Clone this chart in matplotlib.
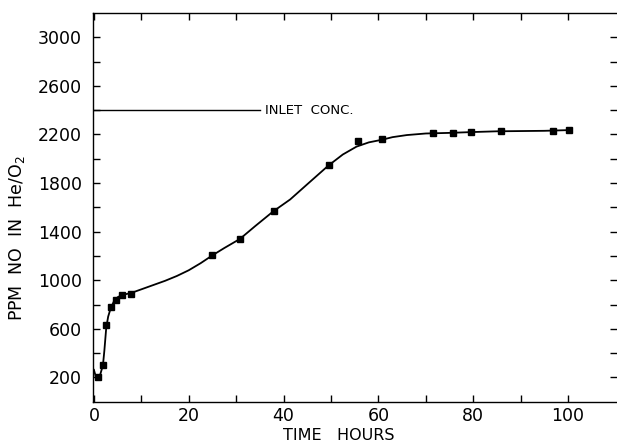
import matplotlib
matplotlib.use('Agg')
import matplotlib.pyplot as plt
import numpy as np

# measured points (squares)
time_pts = [0.9, 2.0, 2.6, 3.7, 4.6, 6.0, 7.8, 25.0, 30.8, 38.0, 49.5, 55.8,
            60.7, 71.6, 75.8, 79.5, 85.9, 96.9, 100.3]
ppm_pts = [205, 305, 628, 779, 834, 875, 889, 1210, 1340, 1570, 1945, 2148,
           2159, 2214, 2208, 2220, 2230, 2228, 2236]

# hand-drawn smooth curve
curve_t = [0.0, 0.4, 0.8, 1.3, 1.9, 2.2, 2.6, 3.0, 3.5, 4.2, 5.0, 6.0, 7.7,
           10, 12.5, 15, 17.5, 20, 22.5, 25, 27.5, 30.8, 34, 37.8, 41.4, 45,
           49.4, 52.5, 55.4, 58, 60.7, 63, 66, 70, 75, 80, 85, 90, 95, 100.3]
curve_ppm = [262, 205, 197, 220, 300, 420, 610, 700, 765, 825, 860, 880, 893,
             925, 960, 995, 1035, 1082, 1140, 1205, 1265, 1340, 1445, 1566,
             1665, 1790, 1942, 2035, 2100, 2135, 2156, 2178, 2195, 2208, 2213,
             2220, 2226, 2228, 2230, 2236]

inlet_conc = 2400
inlet_end = 35

fig = plt.figure(figsize=(6.17, 4.42), dpi=100)
ax = fig.add_axes([0.1507, 0.0912, 0.849, 0.8794])

ax.plot(curve_t, curve_ppm, color='black', lw=1.3)
ax.plot(time_pts, ppm_pts, 's', color='black', ms=4.5)

ax.plot([0, inlet_end], [inlet_conc, inlet_conc], color='black', lw=1.0)
ax.text(inlet_end + 1.0, inlet_conc, 'INLET  CONC.', fontsize=9.5,
        va='center', ha='left')

ax.set_xlim(-0.2, 110.3)
ax.set_ylim(0, 3200)

ax.set_xticks(np.arange(0, 101, 20))
ax.set_xticks(np.arange(10, 101, 20), minor=True)
ax.set_yticks(np.arange(200, 3001, 400))
ax.set_yticks(np.arange(400, 3001, 400), minor=True)

ax.tick_params(which='both', direction='in', length=5, width=1,
               top=True, right=True, labelsize=12.5)
ax.tick_params(axis='x', pad=4)
ax.tick_params(axis='y', pad=8)
ax.spines['right'].set_visible(False)
for s in ['left', 'bottom', 'top']:
    ax.spines[s].set_linewidth(1.0)

ax.set_xlabel('TIME   HOURS', fontsize=11.5)
ax.set_ylabel('PPM  NO  IN  He/O$_2$', fontsize=12.5)
ax.xaxis.set_label_coords(0.469, -0.067)
ax.yaxis.set_label_coords(-0.126, 0.42)

fig.savefig('out.png', dpi=100)
